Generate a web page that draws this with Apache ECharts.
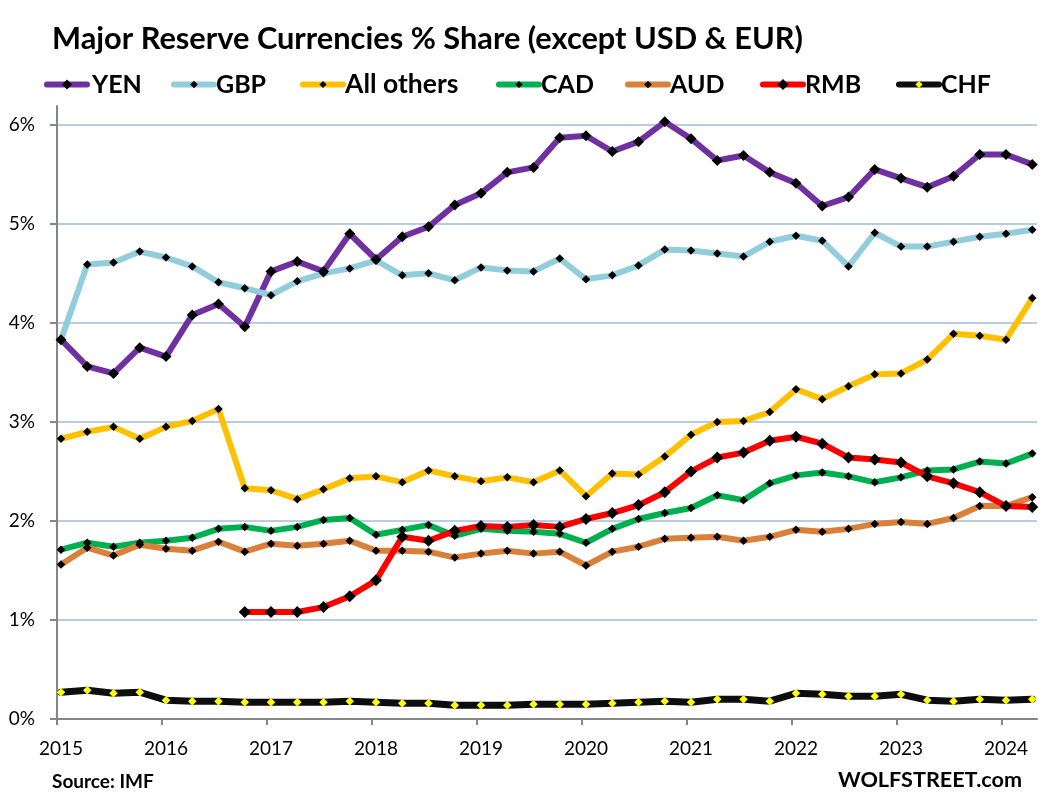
<!DOCTYPE html>
<html>
<head>
<meta charset="utf-8">
<script src="https://cdn.jsdelivr.net/npm/echarts@6/dist/echarts.min.js"></script>
<style>
  html, body { margin: 0; background: #fff; }
  #main { width: 1054px; height: 811px; }
</style>
</head>
<body>
<div id="main"></div>
<script>
// quarterly, first point 2015 Q1
var firstYear = 2015;
var yearLabels = [2015, 2016, 2017, 2018, 2019, 2020, 2021, 2022, 2023, 2024];
var percentTicks = [0, 1, 2, 3, 4, 5, 6];

var yen = [3.83, 3.56, 3.49, 3.75, 3.66, 4.08, 4.19, 3.96, 4.52, 4.62, 4.52, 4.90, 4.64, 4.87, 4.97, 5.19, 5.31, 5.52, 5.57, 5.87, 5.89, 5.73, 5.83, 6.03, 5.86, 5.64, 5.69, 5.52, 5.41, 5.18, 5.27, 5.55, 5.46, 5.37, 5.48, 5.70, 5.70, 5.60];
var gbp = [3.83, 4.59, 4.61, 4.72, 4.66, 4.57, 4.41, 4.35, 4.28, 4.42, 4.50, 4.55, 4.63, 4.48, 4.50, 4.43, 4.56, 4.53, 4.52, 4.65, 4.44, 4.48, 4.58, 4.74, 4.73, 4.70, 4.67, 4.82, 4.88, 4.83, 4.57, 4.91, 4.77, 4.77, 4.82, 4.87, 4.90, 4.94];
var others = [2.83, 2.90, 2.95, 2.83, 2.95, 3.01, 3.13, 2.33, 2.31, 2.22, 2.32, 2.43, 2.45, 2.39, 2.51, 2.45, 2.40, 2.44, 2.39, 2.51, 2.25, 2.48, 2.47, 2.65, 2.87, 3.00, 3.01, 3.10, 3.33, 3.23, 3.36, 3.48, 3.49, 3.63, 3.89, 3.87, 3.83, 4.25];
var cad = [1.71, 1.78, 1.74, 1.78, 1.80, 1.83, 1.92, 1.94, 1.90, 1.94, 2.01, 2.03, 1.86, 1.91, 1.96, 1.85, 1.92, 1.90, 1.89, 1.87, 1.78, 1.92, 2.02, 2.08, 2.13, 2.26, 2.21, 2.38, 2.46, 2.49, 2.45, 2.39, 2.44, 2.51, 2.52, 2.60, 2.58, 2.68];
var aud = [1.56, 1.73, 1.65, 1.76, 1.72, 1.70, 1.79, 1.69, 1.77, 1.75, 1.77, 1.80, 1.70, 1.70, 1.69, 1.63, 1.67, 1.70, 1.67, 1.69, 1.55, 1.69, 1.74, 1.82, 1.83, 1.84, 1.80, 1.84, 1.91, 1.89, 1.92, 1.97, 1.99, 1.97, 2.03, 2.15, 2.15, 2.24];
var rmb = [null, null, null, null, null, null, null, 1.08, 1.08, 1.08, 1.13, 1.24, 1.40, 1.84, 1.80, 1.90, 1.95, 1.94, 1.96, 1.94, 2.02, 2.08, 2.16, 2.29, 2.50, 2.64, 2.69, 2.81, 2.85, 2.78, 2.64, 2.62, 2.59, 2.45, 2.38, 2.29, 2.15, 2.14];
var chf = [0.27, 0.29, 0.26, 0.27, 0.19, 0.18, 0.18, 0.17, 0.17, 0.17, 0.17, 0.18, 0.17, 0.16, 0.16, 0.14, 0.14, 0.14, 0.15, 0.15, 0.15, 0.16, 0.17, 0.18, 0.17, 0.20, 0.20, 0.18, 0.26, 0.25, 0.23, 0.23, 0.25, 0.19, 0.18, 0.20, 0.19, 0.20];

var font = 'Lato';
// axis ticks sit a little left of the year's first point
var tickShift = 4 / 105;

function toPoints(values) {
  return values.map(function (v, i) {
    return [firstYear + i / 4, v];
  });
}

function makeSeries(name, values, color, width, symbolSize, symbolColor) {
  return {
    name: name,
    type: 'line',
    data: toPoints(values),
    symbol: 'diamond',
    symbolSize: symbolSize,
    showAllSymbols: true,
    lineStyle: { color: color, width: width, cap: 'round', join: 'round' },
    itemStyle: { color: symbolColor || '#000', borderWidth: 0 }
  };
}

// one legend per series, the gaps in the original are not even
function makeLegend(name, left, top, markHeight, fontSize, textShift) {
  return {
    data: [name],
    left: left,
    top: top,
    padding: 0,
    itemWidth: 40,
    itemHeight: markHeight,
    lineStyle: { width: 6, cap: 'round' },
    textStyle: { fontFamily: font, fontWeight: 'bold', fontSize: fontSize, color: '#000',
      padding: [0, 0, 0, textShift] }
  };
}

var myChart = echarts.init(document.getElementById('main'));
myChart.setOption({
  animation: false,
  backgroundColor: '#fff',
  title: [
    { text: 'Major Reserve Currencies % Share (except USD & EUR)', left: 47, top: 19,
      textStyle: { fontFamily: font, fontWeight: 'bold', fontSize: 30.75, color: '#000' } },
    { text: 'Source: IMF', left: 47, top: 767,
      textStyle: { fontFamily: font, fontWeight: 'bold', fontSize: 19, color: '#000' } },
    { text: 'WOLFSTREET.com', left: 833, top: 764,
      textStyle: { fontFamily: font, fontWeight: 'bold', fontSize: 21.6, color: '#000' } }
  ],
  legend: [
    makeLegend('YEN', 44, 72, 12.5, 25, 0),
    makeLegend('GBP', 171, 72, 9.5, 25, -3),
    makeLegend('All others', 300, 71, 9, 26.5, -3),
    makeLegend('CAD', 496, 72, 9, 25, -3),
    makeLegend('AUD', 625, 72, 9.5, 25, -3),
    makeLegend('RMB', 760, 72, 14, 25, -3),
    makeLegend('CHF', 896, 72, 9, 25, -3)
  ],
  grid: { left: 57, right: 17, top: 106, bottom: 92 },
  xAxis: {
    type: 'value',
    min: firstYear - tickShift,
    max: 2024.295,
    axisLine: { lineStyle: { color: '#868686', width: 2 } },
    axisTick: { length: 6, lineStyle: { color: '#868686', width: 2 },
      customValues: yearLabels.map(function (y) { return y - tickShift; }) },
    axisLabel: { customValues: yearLabels, margin: 20, color: '#000', fontFamily: font, fontSize: 19,
      formatter: function (v) { return String(Math.round(v)); } },
    splitLine: { show: false }
  },
  yAxis: {
    type: 'value',
    min: 0,
    max: 6.19,
    axisLine: { show: true, lineStyle: { color: '#868686', width: 2 } },
    axisTick: { show: true, length: 7, lineStyle: { color: '#868686', width: 2 }, customValues: percentTicks },
    axisLabel: { customValues: percentTicks, margin: 22, color: '#000', fontFamily: font, fontSize: 19,
      formatter: function (v) { return Math.round(v) + '%'; } },
    splitLine: { show: true, lineStyle: { color: '#B8CCE4', width: 2 } }
  },
  series: [
    makeSeries('YEN', yen, '#7030A0', 6, 11),
    makeSeries('GBP', gbp, '#92CDDC', 6, 8.5),
    makeSeries('All others', others, '#FFC000', 6, 8.5),
    makeSeries('CAD', cad, '#00B050', 6, 8.5),
    makeSeries('AUD', aud, '#D9803A', 6, 8.5),
    makeSeries('RMB', rmb, '#FF0000', 6, 12),
    makeSeries('CHF', chf, '#0D0D0D', 7, 8.5, '#FFFF00')
  ]
});
</script>
</body>
</html>
